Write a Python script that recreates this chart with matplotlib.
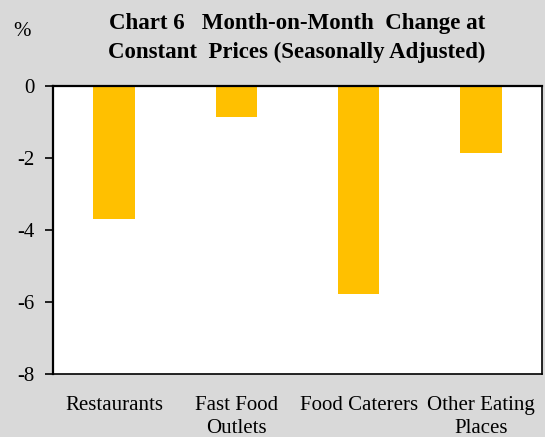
import matplotlib
matplotlib.use("Agg")
import matplotlib.pyplot as plt

categories = ["Restaurants", "Fast Food\nOutlets", "Food Caterers", "Other Eating\nPlaces"]
values = [-3.7, -0.86, -5.78, -1.87]
yticks = [0, -2, -4, -6, -8]

plt.rcParams['font.family'] = ['Liberation Serif', 'DejaVu Serif']

fig = plt.figure(figsize=(5.45, 4.37), dpi=100, facecolor="#D9D9D9")
ax = fig.add_axes([53/545, 1-374/437, (542-53)/545, (374-86)/437])
ax.set_facecolor("white")
x = range(len(categories))
ax.bar(x, values, width=0.34, color="#FFC000")
ax.set_xlim(-0.5, 3.5)
ax.set_ylim(-8, 0)
ax.set_yticks(yticks)
ax.set_yticklabels([str(t) for t in yticks], fontsize=15)
ax.set_xticks(list(x))
ax.set_xticklabels(categories, fontsize=15, linespacing=1.3)
ax.tick_params(axis='x', length=0, pad=16)
ax.tick_params(axis='y', direction='out', length=6, width=1.2, pad=7)
for s in ['left', 'top']:
    ax.spines[s].set_linewidth(1.6)
for s in ['right', 'bottom']:
    ax.spines[s].set_linewidth(1.2)

fig.text(297/545, 1-38/437, "Chart 6   Month-on-Month  Change at\nConstant  Prices (Seasonally Adjusted)",
         ha='center', va='center', fontsize=16.5, fontweight='bold', linespacing=1.45)
fig.text(22/545, 1-31/437, "%", ha='center', va='center', fontsize=15)

fig.savefig("out.png", dpi=100, facecolor=fig.get_facecolor())
